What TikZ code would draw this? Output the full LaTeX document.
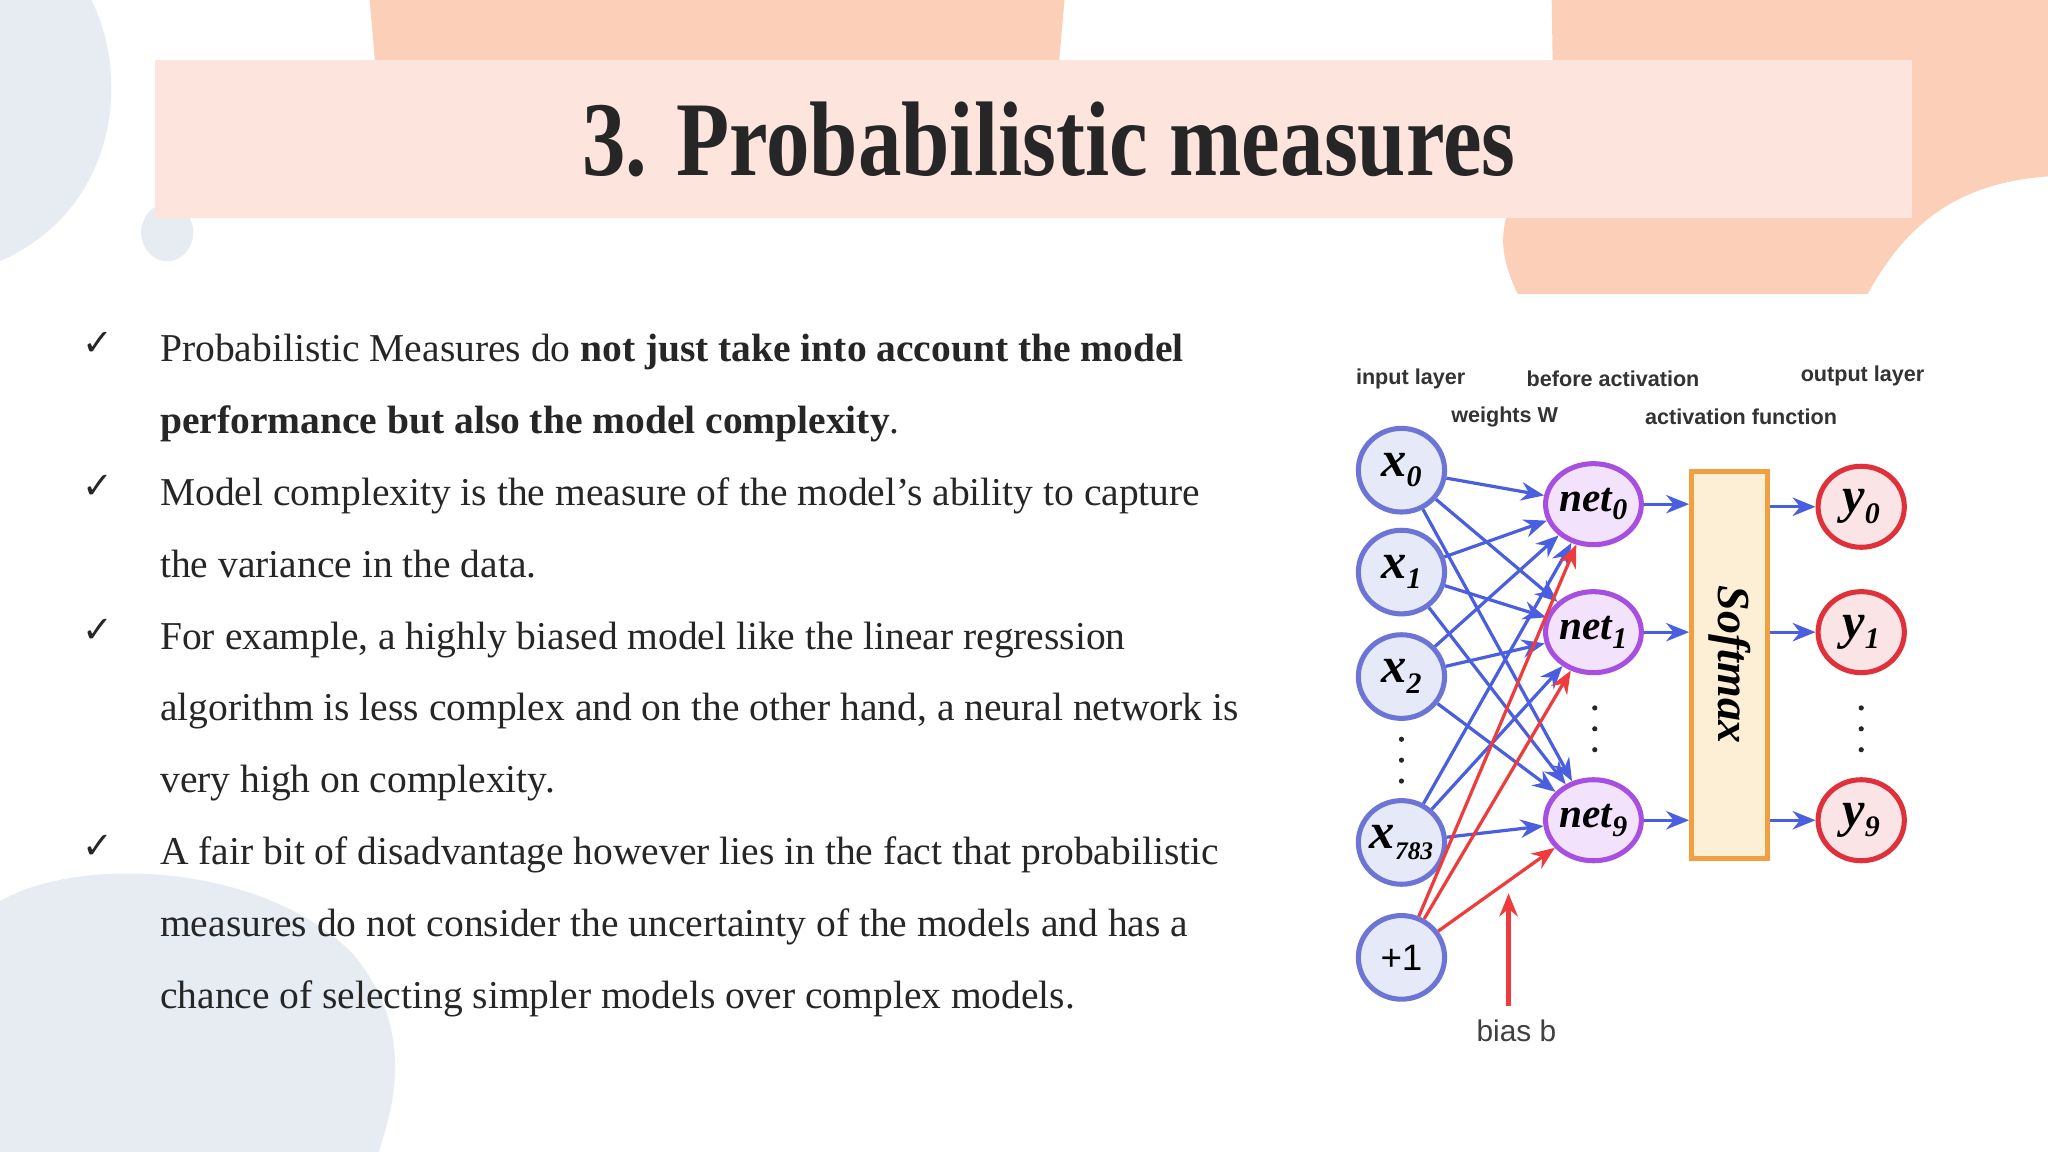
\documentclass[tikz,border=0pt]{standalone}
\usepackage{fontspec}
\setmainfont{Liberation Serif}
\newfontfamily\sansf{Liberation Sans}
\newfontfamily\djv{DejaVu Sans}
\usetikzlibrary{shapes.geometric,arrows.meta}
\newcommand{\sbx}[1]{\raisebox{-0.45ex}{\fontsize{6.5}{6.5}\selectfont #1}}
\definecolor{bgblue}{HTML}{E7ECF2}
\definecolor{peach}{HTML}{FCCFB8}
\definecolor{banner}{HTML}{FDE4DC}
\definecolor{nblue}{HTML}{4A5FE0}
\definecolor{nred}{HTML}{EE3B3B}
\definecolor{inbd}{HTML}{6C74D6}
\definecolor{infl}{HTML}{E6E9F8}
\definecolor{netbd}{HTML}{A64FE0}
\definecolor{netfl}{HTML}{F3E2FB}
\definecolor{outbd}{HTML}{E0303A}
\definecolor{outfl}{HTML}{FBE4E6}
\definecolor{smbd}{HTML}{F0A040}
\definecolor{smfl}{HTML}{FDEFD6}
\tikzset{
 innode/.style={ellipse,draw=inbd,fill=infl,line width=1.1pt,minimum width=0.66cm,minimum height=0.64cm,inner sep=0pt,font=\fontsize{11}{11}\selectfont\bfseries\itshape},
 netnode/.style={ellipse,draw=netbd,fill=netfl,line width=1.1pt,minimum width=0.66cm,minimum height=0.62cm,inner sep=0pt,font=\fontsize{9}{9}\selectfont\bfseries\itshape},
 outnode/.style={ellipse,draw=outbd,fill=outfl,line width=1.1pt,minimum width=0.66cm,minimum height=0.62cm,inner sep=0pt,font=\fontsize{11}{11}\selectfont\bfseries\itshape},
 barr/.style={draw=nblue,line width=0.7pt,-{Stealth[length=5pt,width=4pt]}},
 rarr/.style={draw=nred,line width=0.7pt,-{Stealth[length=5pt,width=4pt]}},
 lab/.style={font=\sansf\fontsize{4.7}{5}\selectfont\bfseries,text=black!80},
 btxt/.style={anchor=base west,inner sep=0pt,font=\fontsize{8.6}{10}\selectfont,text=black!85},
 chk/.style={anchor=base,inner sep=0pt,font=\djv\fontsize{8}{10}\selectfont,text=black!85},
 dots/.style={fill=black!85},
}
\begin{document}
\begin{tikzpicture}[x=0.01cm,y=-0.01cm]
\fill[white] (0,0) rectangle (1568,882);
\useasboundingbox (0,0) rectangle (1568,882);
% background blobs
\fill[bgblue] (0,0) -- (70,0) .. controls (100,60) and (90,160) .. (0,200) -- cycle;
\fill[bgblue] (128,178) ellipse (20 and 22);
\fill[bgblue] (0,690) .. controls (60,655) and (200,660) .. (270,730) .. controls (320,790) and (300,850) .. (290,882) -- (0,882) -- cycle;
\fill[peach] (283,0) -- (815,0) -- (808,80) -- (290,80) -- cycle;
\fill[peach] (1188,0) -- (1568,0) -- (1568,135) .. controls (1500,140) and (1460,170) .. (1430,225) -- (1162,225) .. controls (1145,190) and (1150,170) .. (1160,150) -- (1190,120) -- cycle;
% banner
\fill[banner] (119,46) rectangle (1464,167);
\node[font=\fontsize{22}{22}\selectfont\bfseries,text=black!85] (title) at (803,107) {\scalebox{0.86}[1.05]{3. Probabilistic measures}};
% bullets
\node[chk] (c1) at (75,272) {✓};
\node[chk] (c2) at (75,382) {✓};
\node[chk] (c3) at (75,492) {✓};
\node[chk] (c4) at (75,657) {✓};
\node[btxt] (l1) at (122,277) {Probabilistic Measures do \textbf{not just take into account the model}};
\node[btxt] (l2) at (122,332) {\textbf{performance but also the model complexity}.};
\node[btxt] (l3) at (122,387) {Model complexity is the measure of the model’s ability to capture};
\node[btxt] (l4) at (122,442) {the variance in the data.};
\node[btxt] (l5) at (122,497) {For example, a highly biased model like the linear regression};
\node[btxt] (l6) at (122,552) {algorithm is less complex and on the other hand, a neural network is};
\node[btxt] (l7) at (122,607) {very high on complexity.};
\node[btxt] (l8) at (122,662) {A fair bit of disadvantage however lies in the fact that probabilistic};
\node[btxt] (l9) at (122,717) {measures do not consider the uncertainty of the models and has a};
\node[btxt] (l10) at (122,772) {chance of selecting simpler models over complex models.};
% network labels
\node[lab] (t1) at (1080,290) {input layer};
\node[lab] (t2) at (1235,290) {before activation};
\node[lab] (t3) at (1426,288) {output layer};
\node[lab] (t4) at (1152,319) {weights W};
\node[lab] (t5) at (1333,319) {activation function};
\node[lab,font=\sansf\fontsize{6.5}{7}\selectfont,text=black!75] (bias) at (1161,789) {bias b};
% nodes
\node[innode] (x0) at (1073,360) {x\sbx{0}};
\node[innode] (x1) at (1073,438) {x\sbx{1}};
\node[innode] (x2) at (1073,518) {x\sbx{2}};
\node[innode] (x783) at (1073,645) {\hspace*{-3pt}x\raisebox{-0.45ex}{\fontsize{5.5}{5.5}\selectfont 783}\hspace*{-3pt}};
\node[innode,font=\sansf\fontsize{8}{8}\selectfont] (p1) at (1073,733) {+1};
\node[netnode] (n0) at (1220,386) {net\sbx{0}};
\node[netnode] (n1) at (1220,484) {net\sbx{1}};
\node[netnode] (n9) at (1220,628) {net\sbx{9}};
\node[draw=smbd,fill=smfl,line width=1pt,minimum width=0.58cm,minimum height=2.96cm,inner sep=0pt] (sm) at (1324,509) {};
\node[rotate=-90,font=\fontsize{10}{10}\selectfont\bfseries\itshape] (smt) at (sm.center) {Softmax};
\node[outnode] (y0) at (1425,388) {y\sbx{0}};
\node[outnode] (y1) at (1425,484) {y\sbx{1}};
\node[outnode] (y9) at (1425,628) {y\sbx{9}};
% dots
\foreach \yy in {566,582,598} \fill[dots] (1073,\yy) circle (2);
\foreach \yy in {542,558,574} \fill[dots] (1221,\yy) circle (2);
\foreach \yy in {542,558,574} \fill[dots] (1425,\yy) circle (2);
% connectors
\foreach \s in {x0,x1,x2,x783} \foreach \t in {n0,n1,n9} \draw[barr] (\s) -- (\t);
\foreach \t in {n0,n1,n9} \draw[rarr] (p1) -- (\t);
\draw[barr] (n0) -- (n0 -| sm.west);
\draw[barr] (n1) -- (n1 -| sm.west);
\draw[barr] (n9) -- (n9 -| sm.west);
\draw[barr] (y0 -| sm.east) -- (y0);
\draw[barr] (y1 -| sm.east) -- (y1);
\draw[barr] (y9 -| sm.east) -- (y9);
\coordinate (bt) at (1155,684);
\coordinate (bb) at (1155,770);
\draw[rarr,line width=1pt] (bb) -- (bt);
\end{tikzpicture}
\end{document}
